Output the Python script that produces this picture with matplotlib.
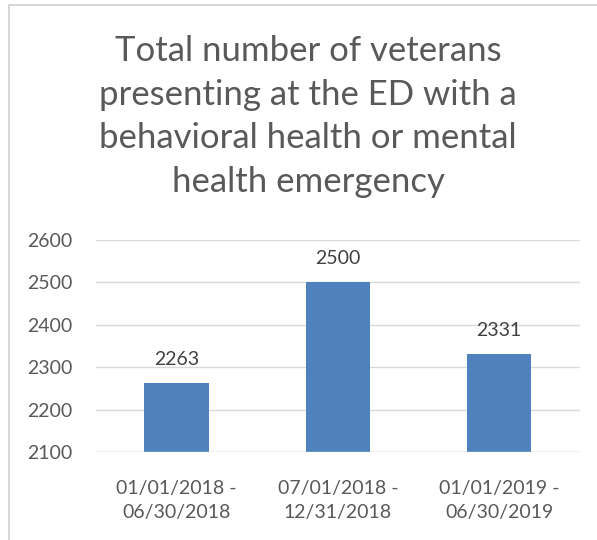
import matplotlib.pyplot as plt
from matplotlib.patches import Rectangle

periods = ["01/01/2018 -\n06/30/2018", "07/01/2018 -\n12/31/2018", "01/01/2019 -\n06/30/2019"]
veterans = [2263, 2500, 2331]
yticks = [2100, 2200, 2300, 2400, 2500, 2600]

plt.rcParams['font.family'] = ['Lato', 'DejaVu Sans']
gray = "#595959"

fig = plt.figure(figsize=(5.97, 5.40), dpi=100)
ax = fig.add_axes([0.161, 0.163, 0.81, 0.393])

x = range(len(periods))
bars = ax.bar(x, veterans, width=0.4, color="#4f81bd", zorder=3)
for b, v in zip(bars, veterans):
    ax.annotate(str(v), (b.get_x() + b.get_width() / 2, v), xytext=(0, 11),
                textcoords="offset points", ha="center", va="bottom",
                fontsize=14, color="#404040")

ax.set_xlim(-0.5, 2.5)
ax.set_ylim(2100, 2600)
ax.set_yticks(yticks)
ax.set_xticks(list(x))
ax.set_xticklabels(periods, linespacing=1.55)
ax.tick_params(axis="both", length=0, labelsize=14, colors=gray)
ax.tick_params(axis="y", pad=17)
ax.tick_params(axis="x", pad=20)
ax.grid(axis="y", color="#d9d9d9", linewidth=1, zorder=0)
for s in ax.spines.values():
    s.set_visible(False)
ax.axhline(2100, color="#d9d9d9", linewidth=1, zorder=4)

fig.text(0.516, 0.935, "Total number of veterans\npresenting at the ED with a\nbehavioral health or mental\nhealth emergency",
         ha="center", va="top", fontsize=25, color=gray, linespacing=1.45)

fig.patches.append(Rectangle((0.015, -0.01), 1.0, 1.0, transform=fig.transFigure,
                             fill=False, edgecolor="#d0d0d0", linewidth=1.2))

fig.savefig("out.png", dpi=100)
